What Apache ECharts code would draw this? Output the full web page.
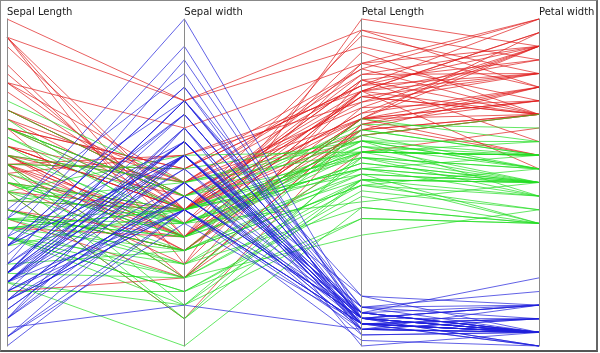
<!DOCTYPE html>
<html>
<head>
<meta charset="utf-8">
<script src="https://cdn.jsdelivr.net/npm/echarts@6/dist/echarts.min.js"></script>
<style>
  html, body { margin: 0; padding: 0; background: #fff; }
  #chart { position: absolute; left: 0; top: 0; width: 600px; height: 353px; }
  #frame { position: absolute; left: 0; top: 0; width: 598px; height: 352px; box-sizing: border-box;
           border-left: 1px solid #888; border-top: 1px solid #888;
           border-right: 2px solid #666; border-bottom: 2px solid #555; pointer-events: none; }
</style>
</head>
<body>
<div id="chart"></div>
<div id="frame"></div>
<script>
// Iris measurements, rows 1-50 setosa, 51-100 versicolor, 101-150 virginica
const sepalLength = [
  5.1,4.9,4.7,4.6,5.0,5.4,4.6,5.0,4.4,4.9,5.4,4.8,4.8,4.3,5.8,5.7,5.4,5.1,5.7,5.1,5.4,5.1,4.6,5.1,4.8,
  5.0,5.0,5.2,5.2,4.7,4.8,5.4,5.2,5.5,4.9,5.0,5.5,4.9,4.4,5.1,5.0,4.5,4.4,5.0,5.1,4.8,5.1,4.6,5.3,5.0,
  7.0,6.4,6.9,5.5,6.5,5.7,6.3,4.9,6.6,5.2,5.0,5.9,6.0,6.1,5.6,6.7,5.6,5.8,6.2,5.6,5.9,6.1,6.3,6.1,6.4,
  6.6,6.8,6.7,6.0,5.7,5.5,5.5,5.8,6.0,5.4,6.0,6.7,6.3,5.6,5.5,5.5,6.1,5.8,5.0,5.6,5.7,5.7,6.2,5.1,5.7,
  6.3,5.8,7.1,6.3,6.5,7.6,4.9,7.3,6.7,7.2,6.5,6.4,6.8,5.7,5.8,6.4,6.5,7.7,7.7,6.0,6.9,5.6,7.7,6.3,6.7,
  7.2,6.2,6.1,6.4,7.2,7.4,7.9,6.4,6.3,6.1,7.7,6.3,6.4,6.0,6.9,6.7,6.9,5.8,6.8,6.7,6.7,6.3,6.5,6.2,5.9
];
const sepalWidth = [
  3.5,3.0,3.2,3.1,3.6,3.9,3.4,3.4,2.9,3.1,3.7,3.4,3.0,3.0,4.0,4.4,3.9,3.5,3.8,3.8,3.4,3.7,3.6,3.3,3.4,
  3.0,3.4,3.5,3.4,3.2,3.1,3.4,4.1,4.2,3.1,3.2,3.5,3.6,3.0,3.4,3.5,2.3,3.2,3.5,3.8,3.0,3.8,3.2,3.7,3.3,
  3.2,3.2,3.1,2.3,2.8,2.8,3.3,2.4,2.9,2.7,2.0,3.0,2.2,2.9,2.9,3.1,3.0,2.7,2.2,2.5,3.2,2.8,2.5,2.8,2.9,
  3.0,2.8,3.0,2.9,2.6,2.4,2.4,2.7,2.7,3.0,3.4,3.1,2.3,3.0,2.5,2.6,3.0,2.6,2.3,2.7,3.0,2.9,2.9,2.5,2.8,
  3.3,2.7,3.0,2.9,3.0,3.0,2.5,2.9,2.5,3.6,3.2,2.7,3.0,2.5,2.8,3.2,3.0,3.8,2.6,2.2,3.2,2.8,2.8,2.7,3.3,
  3.2,2.8,3.0,2.8,3.0,2.8,3.8,2.8,2.8,2.6,3.0,3.4,3.1,3.0,3.1,3.1,3.1,2.7,3.2,3.3,3.0,2.5,3.0,3.4,3.0
];
const petalLength = [
  1.4,1.4,1.3,1.5,1.4,1.7,1.4,1.5,1.4,1.5,1.5,1.6,1.4,1.1,1.2,1.5,1.3,1.4,1.7,1.5,1.7,1.5,1.0,1.7,1.9,
  1.6,1.6,1.5,1.4,1.6,1.6,1.5,1.5,1.4,1.5,1.2,1.3,1.4,1.3,1.5,1.3,1.3,1.3,1.6,1.9,1.4,1.6,1.4,1.5,1.4,
  4.7,4.5,4.9,4.0,4.6,4.5,4.7,3.3,4.6,3.9,3.5,4.2,4.0,4.7,3.6,4.4,4.5,4.1,4.5,3.9,4.8,4.0,4.9,4.7,4.3,
  4.4,4.8,5.0,4.5,3.5,3.8,3.7,3.9,5.1,4.5,4.5,4.7,4.4,4.1,4.0,4.4,4.6,4.0,3.3,4.2,4.2,4.2,4.3,3.0,4.1,
  6.0,5.1,5.9,5.6,5.8,6.6,4.5,6.3,5.8,6.1,5.1,5.3,5.5,5.0,5.1,5.3,5.5,6.7,6.9,5.0,5.7,4.9,6.7,4.9,5.7,
  6.0,4.8,4.9,5.6,5.8,6.1,6.4,5.6,5.1,5.6,6.1,5.6,5.5,4.8,5.4,5.6,5.1,5.1,5.9,5.7,5.2,5.0,5.2,5.4,5.1
];
const petalWidth = [
  0.2,0.2,0.2,0.2,0.2,0.4,0.3,0.2,0.2,0.1,0.2,0.2,0.1,0.1,0.2,0.4,0.4,0.3,0.3,0.3,0.2,0.4,0.2,0.5,0.2,
  0.2,0.4,0.2,0.2,0.2,0.2,0.4,0.1,0.2,0.2,0.2,0.2,0.1,0.2,0.2,0.3,0.3,0.2,0.6,0.4,0.3,0.2,0.2,0.2,0.2,
  1.4,1.5,1.5,1.3,1.5,1.3,1.6,1.0,1.3,1.4,1.0,1.5,1.0,1.4,1.3,1.4,1.5,1.0,1.5,1.1,1.8,1.3,1.5,1.2,1.3,
  1.4,1.4,1.7,1.5,1.0,1.1,1.0,1.2,1.6,1.5,1.6,1.5,1.3,1.3,1.3,1.2,1.4,1.2,1.0,1.3,1.2,1.3,1.3,1.1,1.3,
  2.5,1.9,2.1,1.8,2.2,2.1,1.7,1.8,1.8,2.5,2.0,1.9,2.1,2.0,2.4,2.3,1.8,2.2,2.3,1.5,2.3,2.0,2.0,1.8,2.1,
  1.8,1.8,1.8,2.1,1.6,1.9,2.0,2.2,1.5,1.4,2.3,2.4,1.8,1.8,2.1,2.4,2.3,1.9,2.3,2.5,2.3,1.9,2.0,2.3,1.8
];

const axisNames = ['Sepal Length', 'Sepal width', 'Petal Length', 'Petal width'];
const axisMin = [4.3, 2.0, 1.0, 0.1];
const axisMax = [7.9, 4.4, 6.9, 2.5];

const speciesNames = ['setosa', 'versicolor', 'virginica'];
const speciesCounts = [50, 50, 50];
const speciesColors = ['#1f1fdc', '#22dd22', '#e01c1c'];
// drawn back to front
const drawOrder = [2, 1, 0];

const chart = echarts.init(document.getElementById('chart'), null, { renderer: 'canvas' });

const columns = [sepalLength, sepalWidth, petalLength, petalWidth];
const starts = [];
let acc = 0;
speciesCounts.forEach(n => { starts.push(acc); acc += n; });

const series = drawOrder.map(s => {
  const rows = [];
  for (let i = starts[s]; i < starts[s] + speciesCounts[s]; i++) {
    rows.push(columns.map(col => col[i]));
  }
  return {
    name: speciesNames[s],
    type: 'parallel',
    data: rows,
    smooth: false,
    lineStyle: { color: speciesColors[s], width: 1, opacity: 0.7 },
    emphasis: { disabled: true },
    inactiveOpacity: 0.7,
    activeOpacity: 0.7,
    progressive: 0
  };
});

const option = {
  animation: false,
  backgroundColor: '#fff',
  parallel: {
    left: 7,
    right: 61,
    top: 19,
    bottom: 7
  },
  parallelAxis: axisNames.map((name, i) => ({
    dim: i,
    type: 'value',
    name: name,
    min: axisMin[i],
    max: axisMax[i],
    nameLocation: 'end',
    nameGap: 2,
    nameTextStyle: {
      fontFamily: 'DejaVu Sans',
      fontSize: 10,
      color: '#1a1a1a',
      align: 'left',
      verticalAlign: 'bottom'
    },
    axisLine: { lineStyle: { color: '#8a8a8a', width: 1 } },
    axisTick: { show: false },
    // parallel layout forces labels on, so blank them out
    axisLabel: { formatter: () => '' },
    splitLine: { show: false }
  })),
  series: series
};

chart.setOption(option);
window.addEventListener('resize', () => chart.resize());
</script>
</body>
</html>
